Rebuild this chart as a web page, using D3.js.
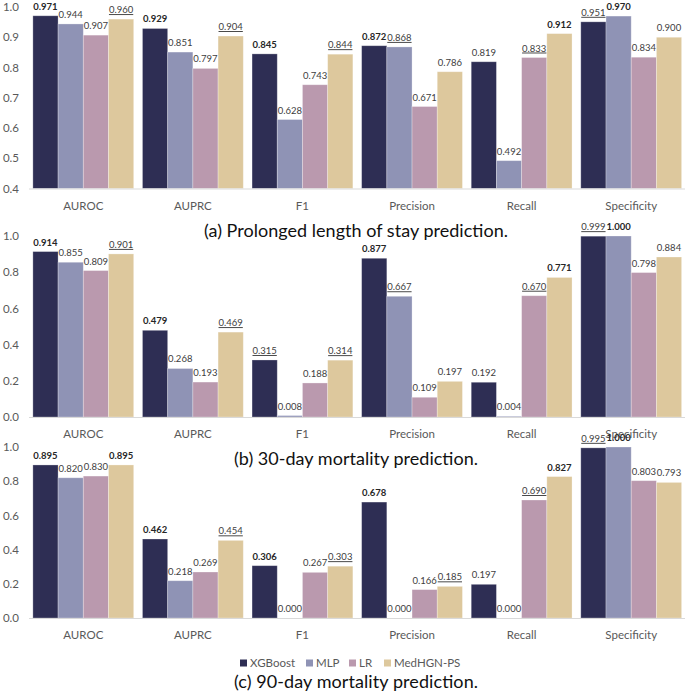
<!DOCTYPE html>
<html>
<head>
<meta charset="utf-8">
<script src="https://cdn.jsdelivr.net/npm/d3@7"></script>
<style>
  body { margin: 0; background: #fff; }
  svg { display: block; font-family: Lato, "Open Sans", sans-serif; }
</style>
</head>
<body>
<svg id="chart" width="685" height="697"></svg>
<script>
// ---------- data ----------
const metrics = ["AUROC", "AUPRC", "F1", "Precision", "Recall", "Specificity"];
const models = ["XGBoost", "MLP", "LR", "MedHGN-PS"];
const modelColors = ["#2e2e54", "#8f93b5", "#ba99ae", "#ddc89d"];

// rows = metrics, cols = models
const losValues = [
  [0.971, 0.944, 0.907, 0.960],
  [0.929, 0.851, 0.797, 0.904],
  [0.845, 0.628, 0.743, 0.844],
  [0.872, 0.868, 0.671, 0.786],
  [0.819, 0.492, 0.833, 0.912],
  [0.951, 0.970, 0.834, 0.900]
];
// 1 = best (bold), 2 = second (underlined)
const losRank = [
  [1, 0, 0, 2],
  [1, 0, 0, 2],
  [1, 0, 0, 2],
  [1, 2, 0, 0],
  [0, 0, 2, 1],
  [2, 1, 0, 0]
];

const mort30Values = [
  [0.914, 0.855, 0.809, 0.901],
  [0.479, 0.268, 0.193, 0.469],
  [0.315, 0.008, 0.188, 0.314],
  [0.877, 0.667, 0.109, 0.197],
  [0.192, 0.004, 0.670, 0.771],
  [0.999, 1.000, 0.798, 0.884]
];
const mort30Rank = [
  [1, 0, 0, 2],
  [1, 0, 0, 2],
  [2, 0, 0, 2],
  [1, 2, 0, 0],
  [0, 0, 2, 1],
  [2, 1, 0, 0]
];

const mort90Values = [
  [0.895, 0.820, 0.830, 0.895],
  [0.462, 0.218, 0.269, 0.454],
  [0.306, 0.000, 0.267, 0.303],
  [0.678, 0.000, 0.166, 0.185],
  [0.197, 0.000, 0.690, 0.827],
  [0.995, 1.000, 0.803, 0.793]
];
const mort90Rank = [
  [1, 0, 0, 1],
  [1, 0, 0, 2],
  [1, 0, 0, 2],
  [1, 0, 0, 2],
  [0, 0, 2, 1],
  [2, 1, 0, 0]
];

const losTicks = [0.4, 0.5, 0.6, 0.7, 0.8, 0.9, 1.0];
const mortTicks = [0.0, 0.2, 0.4, 0.6, 0.8, 1.0];

// ---------- layout ----------
const svg = d3.select("#chart");
const W = 685;

const x = d3.scaleBand().domain(metrics).range([28.5, 686]).paddingInner(0.08).paddingOuter(0.04);
const xs = d3.scaleBand().domain(models).range([0, x.bandwidth()]);
const color = d3.scaleOrdinal().domain(models).range(modelColors);

const panels = [
  { values: losValues, rank: losRank, ticks: losTicks, domain: [0.4, 1.0], range: [188.5, 7],
    caption: "(a) Prolonged length of stay prediction.", capY: 237, capLen: 304 },
  { values: mort30Values, rank: mort30Rank, ticks: mortTicks, domain: [0, 1], range: [417, 236],
    caption: "(b) 30-day mortality prediction.", capY: 465, capLen: 244 },
  { values: mort90Values, rank: mort90Rank, ticks: mortTicks, domain: [0, 1], range: [618, 447],
    caption: "(c) 90-day mortality prediction.", capY: 688, capLen: 244 }
];

panels.forEach(function(p) {
  const y = d3.scaleLinear().domain(p.domain).range(p.range);
  const g = svg.append("g");
  const base = p.range[0];

  // y axis labels (no axis line)
  const yAxis = d3.axisLeft(y).tickValues(p.ticks).tickFormat(d3.format(".1f")).tickSize(0).tickPadding(0);
  g.append("g")
    .attr("transform", "translate(19,0)")
    .call(yAxis)
    .call(s => s.select(".domain").remove())
    .selectAll("text")
    .attr("fill", "#595959")
    .style("font-size", "11.5px")
    .style("font-family", "Lato, 'Open Sans', sans-serif");

  // bars
  const groups = g.selectAll(".grp")
    .data(metrics.map((m, i) => ({ metric: m, vals: p.values[i], rank: p.rank[i] })))
    .enter().append("g")
    .attr("transform", d => "translate(" + x(d.metric) + ",0)");

  const items = groups.selectAll(".it")
    .data(d => models.map((mdl, j) => ({ model: mdl, v: d.vals[j], r: d.rank[j] })))
    .enter();

  items.append("rect")
    .attr("x", d => xs(d.model))
    .attr("width", xs.bandwidth())
    .attr("y", d => y(Math.max(d.v, p.domain[0])))
    .attr("height", d => base - y(Math.max(d.v, p.domain[0])))
    .attr("fill", d => color(d.model))
    .attr("stroke", "#ffffff")
    .attr("stroke-opacity", 0.35)
    .attr("stroke-width", 0.8);

  items.append("text")
    .attr("x", d => xs(d.model) + xs.bandwidth() / 2)
    .attr("y", d => y(Math.max(d.v, p.domain[0])) - 6)
    .attr("text-anchor", "middle")
    .style("font-size", "9.5px")
    .style("font-weight", d => d.r === 1 ? "bold" : "normal")
    .style("text-decoration", d => d.r === 2 ? "underline" : "none")
    .attr("fill", d => d.r === 1 ? "#262626" : "#404040")
    .text(d => d3.format(".3f")(d.v));

  // baseline
  g.append("line")
    .attr("x1", 29).attr("x2", W)
    .attr("y1", base + 0.5).attr("y2", base + 0.5)
    .attr("stroke", "#d9d9d9").attr("stroke-width", 1);

  // category labels
  const xAxis = d3.axisBottom(x).tickSize(0).tickPadding(0);
  g.append("g")
    .attr("transform", "translate(0," + (base + 21) + ")")
    .call(xAxis)
    .call(s => s.select(".domain").remove())
    .selectAll("text")
    .attr("dy", 0)
    .attr("fill", "#595959")
    .style("font-size", "11.5px")
    .style("font-family", "Lato, 'Open Sans', sans-serif");

  // caption
  g.append("text")
    .attr("x", 356)
    .attr("y", p.capY)
    .attr("text-anchor", "middle")
    .attr("textLength", p.capLen)
    .attr("fill", "#111")
    .style("font-size", "18px")
    .text(p.caption);
});

// legend
const legendX = [240, 306, 349, 384];
const legend = svg.append("g").attr("transform", "translate(0,663)");
models.forEach(function(m, i) {
  legend.append("rect")
    .attr("x", legendX[i]).attr("y", -3.5)
    .attr("width", 7).attr("height", 7)
    .attr("fill", color(m));
  legend.append("text")
    .attr("x", legendX[i] + 10).attr("y", 4)
    .attr("fill", "#595959")
    .style("font-size", "11.5px")
    .text(m);
});
</script>
</body>
</html>
